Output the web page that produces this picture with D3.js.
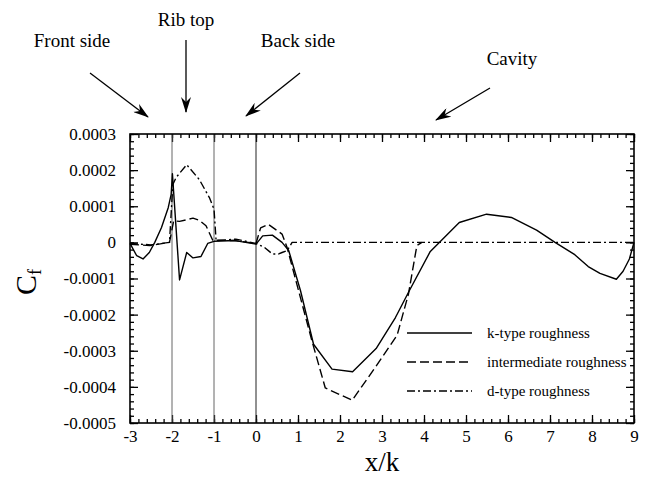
<!DOCTYPE html>
<html>
<head>
<meta charset="utf-8">
<script src="https://cdn.jsdelivr.net/npm/d3@7"></script>
<style>
  body { margin: 0; background: #fff; }
  text { font-family: "Liberation Serif", "DejaVu Serif", serif; fill: #000; }
</style>
</head>
<body>
<div id="chart"></div>
<script>
// skin friction, values in units of 1e-4
const kX = [-3, -2.84, -2.69, -2.54, -2.41, -2.25, -2.09, -2.02, -1.99, -1.82, -1.65, -1.5, -1.31, -1.15, -1.0, -0.5, 0.0, 0.16, 0.39, 0.62, 0.78, 1.06, 1.37, 1.81, 2.30, 2.86, 3.32, 3.65, 4.15, 4.84, 5.49, 6.08, 6.68, 7.12, 7.59, 7.91, 8.19, 8.58, 8.74, 8.89, 9.0];
const kCf = [-0.03, -0.37, -0.46, -0.28, 0.0, 0.41, 0.96, 1.33, 1.9, -1.04, -0.28, -0.43, -0.39, -0.03, 0.03, 0.05, -0.05, 0.18, 0.2, 0.0, -0.23, -1.34, -2.82, -3.51, -3.58, -2.94, -2.08, -1.34, -0.25, 0.55, 0.78, 0.69, 0.34, 0.0, -0.34, -0.67, -0.86, -1.02, -0.8, -0.46, 0.0];

const intX = [-3, -2.53, -2.06, -1.96, -1.82, -1.5, -1.35, -1.19, -1.03, -0.5, 0.0, 0.11, 0.29, 0.62, 0.74, 1.33, 1.65, 2.29, 2.84, 3.36, 3.63, 3.83, 3.95];
const intCf = [-0.05, -0.09, 0.0, 0.6, 0.58, 0.67, 0.61, 0.46, 0.06, 0.05, -0.03, 0.4, 0.5, 0.23, -0.14, -2.72, -4.03, -4.37, -3.46, -2.57, -1.43, -0.09, 0.0];

const dX = [-3, -2.5, -2.06, -1.98, -1.9, -1.65, -1.35, -1.11, -1.0, -0.95, -0.48, 0.0, 0.2, 0.39, 0.54, 0.62, 0.74, 0.86, 9.0];
const dCf = [-0.03, -0.07, 0.0, 1.6, 1.8, 2.15, 1.74, 1.24, 0.92, 0.05, 0.09, -0.03, -0.14, -0.32, -0.32, -0.28, -0.23, 0.0, 0.0];

const seriesNames = ["k-type roughness", "intermediate roughness", "d-type roughness"];
const xTicks = [-3, -2, -1, 0, 1, 2, 3, 4, 5, 6, 7, 8, 9];
const yTicks = [-5, -4, -3, -2, -1, 0, 1, 2, 3];
const ribLines = [-2, -1, 0];

const regions = ["Front side", "Rib top", "Back side", "Cavity"];

let width = 652, height = 479;
let margin = { top: 134, right: 18, bottom: 56, left: 130 };
let innerW = width - margin.left - margin.right,
  innerH = height - margin.top - margin.bottom;

let x = d3.scaleLinear().domain([-3, 9]).range([0, innerW]),
  y = d3.scaleLinear().domain([-5, 3]).range([innerH, 0]);

const svg = d3.select("#chart").append("svg")
  .attr("width", width)
  .attr("height", height);

const defs = svg.append("defs");
defs.append("marker")
  .attr("id", "arrow")
  .attr("viewBox", "0 0 16 10")
  .attr("refX", 15).attr("refY", 5)
  .attr("markerWidth", 16).attr("markerHeight", 10)
  .attr("markerUnits", "userSpaceOnUse")
  .attr("orient", "auto")
  .append("path")
  .attr("d", "M0,0 L16,5 L0,10 L5,5 Z")
  .attr("fill", "#000");

const focus = svg.append("g")
  .attr("transform", "translate(" + margin.left + "," + margin.top + ")");

// minor ticks every 0.2 / 0.2e-4
const xMinor = d3.range(-3, 9.001, 0.2).map(d => +d.toFixed(2));
const yMinor = d3.range(-5, 3.001, 0.2).map(d => +d.toFixed(2));

function minor(axis, g) {
  g.call(axis).call(s => s.select(".domain").remove()).selectAll("text").remove();
}

focus.append("g").attr("transform", "translate(0," + innerH + ")")
  .call(g => minor(d3.axisBottom(x).tickValues(xMinor).tickSize(-4), g));
focus.append("g")
  .call(g => minor(d3.axisTop(x).tickValues(xMinor).tickSize(-4), g));
focus.append("g")
  .call(g => minor(d3.axisLeft(y).tickValues(yMinor).tickSize(-4), g));
focus.append("g").attr("transform", "translate(" + innerW + ",0)")
  .call(g => minor(d3.axisRight(y).tickValues(yMinor).tickSize(-4), g));

// major ticks
let xAxis = d3.axisBottom(x).tickValues(xTicks).tickSize(-8).tickPadding(7).tickFormat(d => d);
let yAxis = d3.axisLeft(y).tickValues(yTicks).tickSize(-8).tickPadding(14)
  .tickFormat(d => d === 0 ? "0" : (d / 10000).toFixed(4));

focus.append("g").attr("id", "axis--x")
  .attr("transform", "translate(0," + innerH + ")")
  .call(xAxis)
  .call(g => g.select(".domain").remove())
  .call(g => g.selectAll("text").style("font-size", "17px"));
focus.append("g")
  .call(d3.axisTop(x).tickValues(xTicks).tickSize(-8).tickFormat(""))
  .call(g => g.select(".domain").remove());
focus.append("g").attr("id", "axis--y")
  .call(yAxis)
  .call(g => g.select(".domain").remove())
  .call(g => g.selectAll("text").style("font-size", "17px"));
focus.append("g").attr("transform", "translate(" + innerW + ",0)")
  .call(d3.axisRight(y).tickValues(yTicks).tickSize(-8).tickFormat(""))
  .call(g => g.select(".domain").remove());

focus.selectAll(".tick line").attr("stroke", "#000").attr("stroke-width", 1.3);

// rib edges
focus.selectAll(".rib")
  .data(ribLines)
  .join("line")
  .attr("class", "rib")
  .attr("x1", d => x(d)).attr("x2", d => x(d))
  .attr("y1", 0).attr("y2", innerH)
  .attr("stroke", (d, i) => i < 2 ? "#666" : "#222")
  .attr("stroke-width", 1);

const line = d3.line().x(d => x(d[0])).y(d => y(d[1]));
const styles = [
  { dash: null },
  { dash: "9,4" },
  { dash: "8,3,2,3" }
];
const series = [
  d3.zip(kX, kCf),
  d3.zip(intX, intCf),
  d3.zip(dX, dCf)
];

focus.selectAll(".series")
  .data(series)
  .join("path")
  .attr("class", "series")
  .attr("d", line)
  .attr("fill", "none")
  .attr("stroke", "#000")
  .attr("stroke-width", 1.4)
  .attr("stroke-linejoin", "round")
  .attr("stroke-dasharray", (d, i) => styles[i].dash);

// frame
focus.append("rect")
  .attr("width", innerW).attr("height", innerH)
  .attr("fill", "none").attr("stroke", "#000").attr("stroke-width", 1.6);

// legend
const legend = focus.append("g")
  .attr("transform", "translate(" + (407 - margin.left) + "," + (333 - margin.top) + ")");
seriesNames.forEach((name, i) => {
  legend.append("line")
    .attr("x1", 0).attr("x2", 65)
    .attr("y1", i * 29).attr("y2", i * 29)
    .attr("stroke", "#000").attr("stroke-width", 1.4)
    .attr("stroke-dasharray", styles[i].dash);
  legend.append("text")
    .attr("x", 80).attr("y", i * 29)
    .attr("dy", "0.35em")
    .style("font-size", "15px")
    .text(name);
});

// axis labels
svg.append("text")
  .attr("x", margin.left + x(3.0)).attr("y", 471)
  .style("text-anchor", "middle")
  .style("font-size", "27px")
  .text("x/k");

const cf = svg.append("text")
  .attr("transform", "translate(36,282) rotate(-90)")
  .style("text-anchor", "middle")
  .style("font-size", "30px");
cf.append("tspan").text("C");
cf.append("tspan").attr("dy", "0.3em").style("font-size", "18px").text("f");

// region annotations
const notes = [
  { tx: 72, ty: 40, x1: 90, y1: 73, x2: 148, y2: 117 },
  { tx: 186, ty: 19, x1: 186, y1: 40, x2: 186, y2: 112 },
  { tx: 298, ty: 40, x1: 300, y1: 73, x2: 246, y2: 116 },
  { tx: 512, ty: 58, x1: 490, y1: 88, x2: 436, y2: 120 }
];
regions.forEach((r, i) => {
  const n = notes[i];
  svg.append("text")
    .attr("x", n.tx).attr("y", n.ty).attr("dy", "0.35em")
    .style("text-anchor", "middle")
    .style("font-size", "19px")
    .text(r);
  svg.append("line")
    .attr("x1", n.x1).attr("y1", n.y1)
    .attr("x2", n.x2).attr("y2", n.y2)
    .attr("stroke", "#000").attr("stroke-width", 1.3)
    .attr("marker-end", "url(#arrow)");
});
</script>
</body>
</html>
